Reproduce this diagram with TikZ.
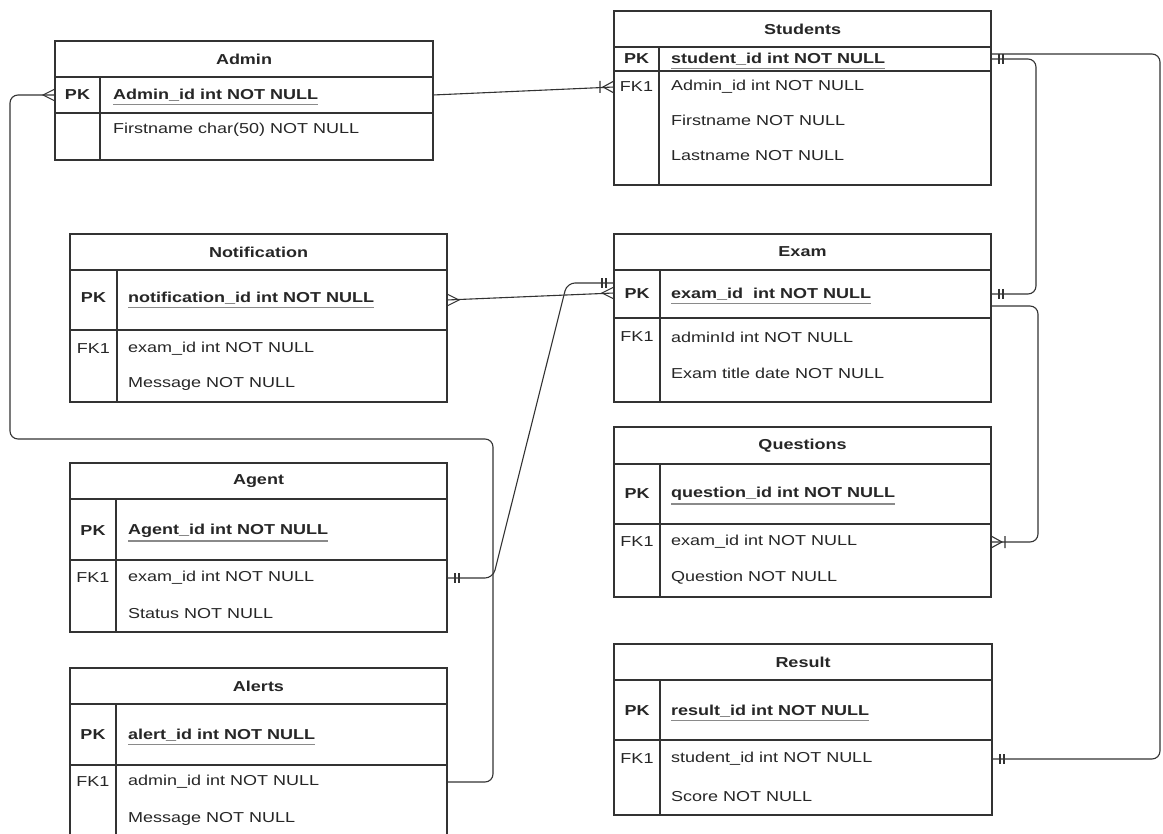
\documentclass[tikz,border=0pt]{standalone}
\usepackage{fontspec}
\setmainfont{Liberation Sans}[FakeStretch=1.25]
\usetikzlibrary{calc}
\definecolor{ln}{HTML}{333333}
\definecolor{tx}{HTML}{262626}
\definecolor{ul}{HTML}{8A8A8A}
\newcommand\ertable[9]{%
  \node[cell, minimum width=#4pt, minimum height=#5pt] (#1H) at (#2,#3) {};
  \node[cell, minimum width=#4pt, minimum height=#6pt] (#1PK) at (#1H.south west) {};
  \node[cell, minimum width=#4pt, minimum height=#7pt] (#1B) at (#1PK.south west) {};
  \draw[ln, line width=1.1pt] ($(#1PK.north west)+(#8,0)$) -- ($(#1B.south west)+(#8,0)$);
  \node[ttl] (#1T) at (#1H.center) {#9};
}
\newcommand\pkul[1]{\textbf{#1}}
\begin{document}
\begin{tikzpicture}[x=1pt,y=-1pt,
  every node/.style={font=\fontsize{14.4}{17}\selectfont, text=tx},
  cell/.style={draw=ln, line width=1.1pt, rectangle, inner sep=0pt, outer sep=0pt, anchor=north west},
  ttl/.style={font=\fontsize{14.4}{17}\selectfont\bfseries, inner sep=0pt},
  keyt/.style={inner sep=0pt},
  fld/.style={inner sep=0pt, anchor=west},
  conn/.style={draw=ln, line width=1.1pt, rounded corners=8pt},
  mk/.style={draw=ln, line width=1.1pt},
  uline/.style={draw=ul, line width=1.2pt},
  twobar/.pic={\draw[mk] (8,-5) -- (8,5) (12,-5) -- (12,5);},
  manyfoot/.pic={\draw[mk] (0,-6) -- (12,0) -- (0,6);},
  onemany/.pic={\draw[mk] (0,-6) -- (11,0) -- (0,6) (14,-6) -- (14,6);}
]
\clip (0,0) rectangle (1163,834);
\fill[white] (0,0) rectangle (1163,834);

% Admin
\ertable{ad}{55}{41}{378}{36}{36}{47}{45}{Admin}
\node[keyt] (adK1) at (77.5,95) {\textbf{PK}};
\node[fld] (adP) at (113,95) {\pkul{Admin\_id int NOT NULL}};
\node[fld] (adF1) at (113,130) {Firstname char(50) NOT NULL};

% Students
\ertable{st}{614}{11}{377}{36}{24}{114}{45}{Students}
\node[keyt] (stK1) at (636.5,59) {\textbf{PK}};
\node[fld] (stP) at (671,59) {\pkul{student\_id int NOT NULL}};
\node[keyt] (stK2) at (636.5,87) {FK1};
\node[fld] (stF1) at (671,87) {Admin\_id int NOT NULL};
\node[fld] (stF2) at (671,120) {Firstname NOT NULL};
\node[fld] (stF3) at (671,156) {Lastname NOT NULL};

% Notification
\ertable{no}{70}{234}{377}{36}{60}{72}{47}{Notification}
\node[keyt] (noK1) at (93.5,298) {\textbf{PK}};
\node[fld] (noP) at (128,298) {\pkul{notification\_id int NOT NULL}};
\node[keyt] (noK2) at (93.5,349) {FK1};
\node[fld] (noF1) at (128,349) {exam\_id int NOT NULL};
\node[fld] (noF2) at (128,384) {Message NOT NULL};

% Exam
\ertable{ex}{614}{234}{377}{36}{48}{84}{46}{Exam}
\node[keyt] (exK1) at (637,294) {\textbf{PK}};
\node[fld] (exP) at (671,294) {\pkul{exam\_id\ \ int NOT NULL}};
\node[keyt] (exK2) at (637,337) {FK1};
\node[fld] (exF1) at (671,337) {adminId int NOT NULL};
\node[fld] (exF2) at (671,373) {Exam title date NOT NULL};

% Questions
\ertable{qu}{614}{427}{377}{37}{60}{73}{46}{Questions}
\node[keyt] (quK1) at (637,494) {\textbf{PK}};
\node[fld] (quP) at (671,494) {\pkul{question\_id int NOT NULL}};
\node[keyt] (quK2) at (637,542) {FK1};
\node[fld] (quF1) at (671,542) {exam\_id int NOT NULL};
\node[fld] (quF2) at (671,578) {Question NOT NULL};

% Agent
\ertable{ag}{70}{463}{377}{36}{61}{72}{46}{Agent}
\node[keyt] (agK1) at (93,531) {\textbf{PK}};
\node[fld] (agP) at (128,531) {\pkul{Agent\_id int NOT NULL}};
\node[keyt] (agK2) at (93,578) {FK1};
\node[fld] (agF1) at (128,578) {exam\_id int NOT NULL};
\node[fld] (agF2) at (128,614) {Status NOT NULL};

% Alerts
\ertable{al}{70}{668}{377}{36}{61}{100}{46}{Alerts}
\node[keyt] (alK1) at (93,735) {\textbf{PK}};
\node[fld] (alP) at (128,735) {\pkul{alert\_id int NOT NULL}};
\node[keyt] (alK2) at (93,782) {FK1};
\node[fld] (alF1) at (128,782) {admin\_id int NOT NULL};
\node[fld] (alF2) at (128,819) {Message NOT NULL};

% Result
\ertable{re}{614}{644}{378}{36}{60}{75}{46}{Result}
\node[keyt] (reK1) at (637,711) {\textbf{PK}};
\node[fld] (reP) at (671,711) {\pkul{result\_id int NOT NULL}};
\node[keyt] (reK2) at (637,759) {FK1};
\node[fld] (reF1) at (671,759) {student\_id int NOT NULL};
\node[fld] (reF2) at (671,797) {Score NOT NULL};

% underlines of the primary keys
\foreach \n in {adP,stP,noP,exP,quP,agP,alP,reP}
  \draw[uline] ($(\n.south west)+(0,3)$) -- ($(\n.south east)+(0,3)$);

% Connectors
% Admin -> Students
\coordinate (stIn) at (stB.west |- stF1);
\draw[conn] (adPK.east) -- (stIn);
\pic[rotate=180] at (stIn) {onemany};

% Students -> Exam
\draw[conn] (stPK.east) -- ++(45,0) |- (exPK.east);
\pic at (stPK.east) {twobar};
\pic at (exPK.east) {twobar};

% Students -> Result
\coordinate (stR) at ($(stPK.east)+(0,-5)$);
\coordinate (reIn) at (reB.east |- reF1);
\coordinate (rtCorner) at (1160,759);
\draw[conn] (stR) -| (rtCorner) -- (reIn);
\pic at (reIn) {twobar};

% Exam -> Questions
\coordinate (exR) at ($(exPK.east)+(0,12)$);
\coordinate (quIn) at (quB.east |- quF1);
\draw[conn] (exR) -- ++(47,0) |- (quIn);
\pic at (quIn) {onemany};

% Notification -> Exam
\coordinate (exL) at ($(exPK.west)+(0,-1)$);
\draw[conn] (noPK.east) -- (exL);
\pic at (noPK.east) {manyfoot};
\pic[rotate=180] at (exL) {manyfoot};

% Agent -> Exam
\coordinate (agOut) at (agB.east |- agF1);
\coordinate (exL2) at ($(exPK.west)+(0,-11)$);
\draw[conn] (agOut) -- ++(46,0) -- ($(exL2)+(-47,0)$) -- (exL2);
\pic at (agOut) {twobar};
\pic[rotate=180] at (exL2) {twobar};

% Alerts -> Admin
\coordinate (alOut) at (alB.east |- alF1);
\coordinate (loopA) at (493,439);
\coordinate (loopB) at (10,439);
\draw[conn] (alOut) -| (loopA) -- (loopB) |- (adPK.west);
\pic[rotate=180] at (adPK.west) {manyfoot};
\end{tikzpicture}
\end{document}
